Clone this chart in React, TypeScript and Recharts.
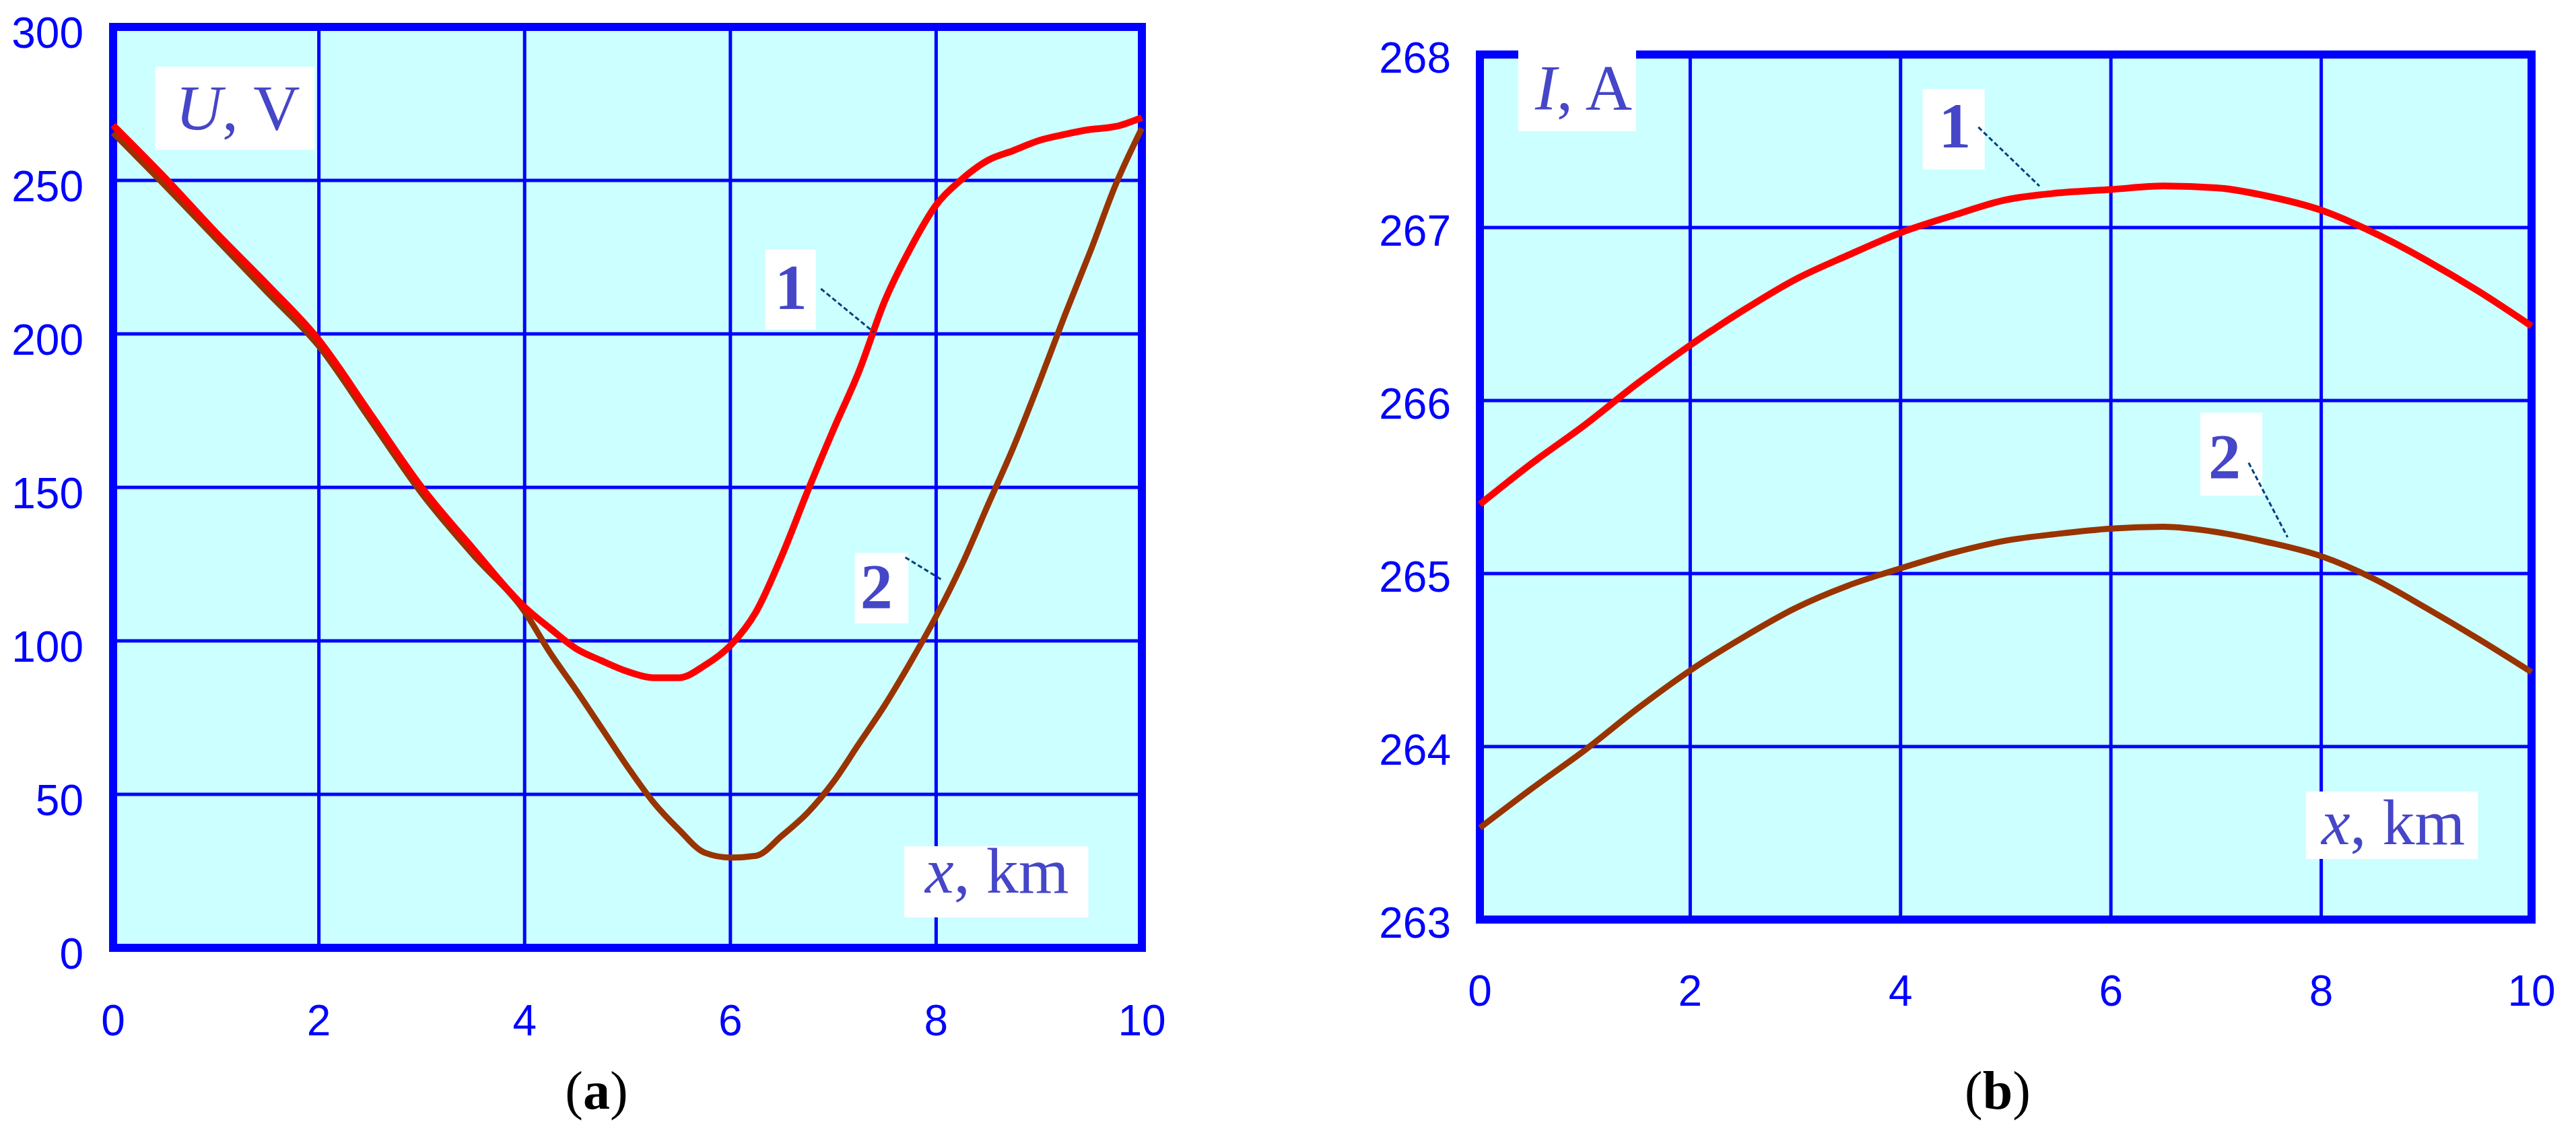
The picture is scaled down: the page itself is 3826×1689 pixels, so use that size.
import { LineChart, Line, XAxis, YAxis, CartesianGrid, ReferenceArea, ReferenceLine } from 'recharts';

// (a) voltage along the line, km -> V
const xA = [0, 0.5, 1, 1.5, 2, 2.5, 3, 3.5, 4, 4.25, 4.5, 4.75, 5, 5.25, 5.5, 5.75, 6, 6.25, 6.5, 6.75, 7, 7.25, 7.5, 7.75, 8, 8.25, 8.5, 8.75, 9, 9.25, 9.5, 9.75, 10];
const voltage1 = [268, 251, 233, 216, 198, 174, 150, 130, 111, 104, 97.5, 93.5, 90, 88, 88, 92, 98.5, 109.5, 127.7, 148.7, 168.7, 187.8, 210.7, 227.9, 242, 250.4, 256.5, 259.7, 263, 265, 266.6, 267.6, 270.5];
const voltage2 = [265.5, 248.5, 231, 213.5, 196, 172, 148, 128, 109.5, 96, 84, 71.5, 59, 47.5, 38.5, 31, 29.4, 30, 36.5, 44, 54, 66.5, 79, 93, 108, 124.8, 144, 163, 184, 206, 227, 249, 267];

// (b) current along the line, km -> A
const xB = [0, 0.5, 1, 1.5, 2, 2.5, 3, 3.5, 4, 4.5, 5, 5.5, 6, 6.5, 7, 7.5, 8, 8.5, 9, 9.5, 10];
const current1 = [265.4, 265.64, 265.86, 266.1, 266.32, 266.52, 266.7, 266.84, 266.97, 267.07, 267.16, 267.2, 267.22, 267.24, 267.23, 267.18, 267.1, 266.97, 266.81, 266.63, 266.43];
const current2 = [263.53, 263.76, 263.98, 264.22, 264.44, 264.63, 264.8, 264.93, 265.03, 265.12, 265.19, 265.23, 265.26, 265.27, 265.24, 265.18, 265.1, 264.97, 264.8, 264.62, 264.43];

const xTicks = [0, 2, 4, 6, 8, 10];
const uTicks = [0, 50, 100, 150, 200, 250, 300];
const iTicks = [263, 264, 265, 266, 267, 268];

const dataA = xA.map((x, i) => ({ x, u1: voltage1[i], u2: voltage2[i] }));
const dataB = xB.map((x, i) => ({ x, i1: current1[i], i2: current2[i] }));

const BLUE = '#0000FF';
const CYAN = '#CCFFFF';
const RED = '#FF0000';
const BROWN = '#993300';
const INK = '#4646C8';
const LEADER = '#004080';
const SERIF = '"Liberation Serif", "Times New Roman", serif';
const SANS = '"Liberation Sans", Arial, sans-serif';

type Part = { t: string; italic?: boolean; bold?: boolean };

const boxText = (parts: Part[], dx: number, dy: number, anchor: 'start' | 'middle' = 'start') =>
  (props: any) => {
    const vb = props.viewBox || { x: 0, y: 0 };
    return (
      <text x={vb.x + dx} y={vb.y + dy} textAnchor={anchor} fontFamily={SERIF} fontSize={96} fill={INK}>
        {parts.map((p, k) => (
          <tspan key={k} fontStyle={p.italic ? 'italic' : 'normal'} fontWeight={p.bold ? 'bold' : 'normal'}>{p.t}</tspan>
        ))}
      </text>
    );
  };

const yTick = (dx: number, dy: number) => (props: any) => (
  <text x={props.x - dx} y={props.y + dy} textAnchor="end" fontFamily={SANS} fontSize={64} fill={BLUE}>
    {props.payload.value}
  </text>
);

const xTick = (dy: number) => (props: any) => (
  <text x={props.x} y={props.y + dy} textAnchor="middle" fontFamily={SANS} fontSize={64} fill={BLUE}>
    {props.payload.value}
  </text>
);

function VoltageChart() {
  return (
    <LineChart width={1800} height={1689} data={dataA} margin={{ top: 40, right: 104, left: 68, bottom: 131 }}>
      <CartesianGrid fill={CYAN} fillOpacity={1} stroke={BLUE} strokeWidth={5} />
      <XAxis type="number" dataKey="x" domain={[0, 10]} ticks={xTicks} interval={0} height={150}
        axisLine={false} tickLine={false} tickSize={0} tickMargin={0} tick={xTick(130)} />
      <YAxis type="number" domain={[0, 300]} ticks={uTicks} interval={0} width={100}
        axisLine={false} tickLine={false} tickSize={0} tickMargin={0} tick={yTick(44, 31)} />
      <Line type="monotone" dataKey="u2" stroke={BROWN} strokeWidth={9} dot={false} isAnimationActive={false} />
      <Line type="monotone" dataKey="u1" stroke={RED} strokeWidth={10} dot={false} isAnimationActive={false} />
      <ReferenceArea x1={0} x2={10} y1={0} y2={300} fill="none" stroke={BLUE} strokeWidth={12} ifOverflow="visible" />
      <ReferenceLine segment={[{ x: 6.88, y: 214.7 }, { x: 7.4, y: 200.4 }]} stroke={LEADER} strokeWidth={3} strokeDasharray="7 4" ifOverflow="visible" />
      <ReferenceLine segment={[{ x: 7.7, y: 127.2 }, { x: 8.05, y: 120 }]} stroke={LEADER} strokeWidth={3} strokeDasharray="7 4" ifOverflow="visible" />
      <ReferenceArea x1={0.41} x2={1.96} y1={260} y2={287} fill="#FFFFFF" fillOpacity={1} stroke="none" ifOverflow="visible"
        label={boxText([{ t: 'U', italic: true }, { t: ', V' }], 30, 94)} />
      <ReferenceArea x1={7.69} x2={9.48} y1={9.9} y2={33.1} fill="#FFFFFF" fillOpacity={1} stroke="none" ifOverflow="visible"
        label={boxText([{ t: 'x', italic: true }, { t: ', km' }], 31, 69)} />
      <ReferenceArea x1={6.34} x2={6.83} y1={201.5} y2={227.4} fill="#FFFFFF" fillOpacity={1} stroke="none" ifOverflow="visible"
        label={boxText([{ t: '1', bold: true }], 38, 88, 'middle')} />
      <ReferenceArea x1={7.21} x2={7.73} y1={105.7} y2={128.7} fill="#FFFFFF" fillOpacity={1} stroke="none" ifOverflow="visible"
        label={boxText([{ t: '2', bold: true }], 32, 83, 'middle')} />
    </LineChart>
  );
}

function CurrentChart() {
  return (
    <LineChart width={1826} height={1689} data={dataB} margin={{ top: 81, right: 66, left: 98, bottom: 173 }}>
      <CartesianGrid fill={CYAN} fillOpacity={1} stroke={BLUE} strokeWidth={5} />
      <XAxis type="number" dataKey="x" domain={[0, 10]} ticks={xTicks} interval={0} height={150}
        axisLine={false} tickLine={false} tickSize={0} tickMargin={0} tick={xTick(128)} />
      <YAxis type="number" domain={[263, 268]} ticks={iTicks} interval={0} width={100}
        axisLine={false} tickLine={false} tickSize={0} tickMargin={0} tick={yTick(43, 27)} />
      <Line type="monotone" dataKey="i2" stroke={BROWN} strokeWidth={9} dot={false} isAnimationActive={false} />
      <Line type="monotone" dataKey="i1" stroke={RED} strokeWidth={10} dot={false} isAnimationActive={false} />
      <ReferenceArea x1={0} x2={10} y1={263} y2={268} fill="none" stroke={BLUE} strokeWidth={12} ifOverflow="visible" />
      <ReferenceLine segment={[{ x: 4.74, y: 267.58 }, { x: 5.32, y: 267.24 }]} stroke={LEADER} strokeWidth={3} strokeDasharray="7 4" ifOverflow="visible" />
      <ReferenceLine segment={[{ x: 7.31, y: 265.64 }, { x: 7.68, y: 265.21 }]} stroke={LEADER} strokeWidth={3} strokeDasharray="7 4" ifOverflow="visible" />
      <ReferenceArea x1={0.365} x2={1.485} y1={267.556} y2={268.04} fill="#FFFFFF" fillOpacity={1} stroke="none" ifOverflow="visible"
        label={boxText([{ t: 'I', italic: true }, { t: ', A' }], 25, 92)} />
      <ReferenceArea x1={7.855} x2={9.49} y1={263.35} y2={263.74} fill="#FFFFFF" fillOpacity={1} stroke="none" ifOverflow="visible"
        label={boxText([{ t: 'x', italic: true }, { t: ', km' }], 23, 78)} />
      <ReferenceArea x1={4.21} x2={4.8} y1={267.335} y2={267.8} fill="#FFFFFF" fillOpacity={1} stroke="none" ifOverflow="visible"
        label={boxText([{ t: '1', bold: true }], 48, 87, 'middle')} />
      <ReferenceArea x1={6.85} x2={7.44} y1={265.45} y2={265.93} fill="#FFFFFF" fillOpacity={1} stroke="none" ifOverflow="visible"
        label={boxText([{ t: '2', bold: true }], 36, 98, 'middle')} />
    </LineChart>
  );
}

const captionStyle = {
  position: 'absolute' as const,
  top: 1580,
  width: 200,
  textAlign: 'center' as const,
  fontFamily: SERIF,
  fontSize: 80,
  lineHeight: '80px',
  color: '#000000',
};

export default function App() {
  return (
    <div style={{ position: 'absolute', left: 0, top: 0, width: 3826, height: 1689, background: '#FFFFFF', overflow: 'hidden' }}>
      <div style={{ position: 'absolute', left: 0, top: 0 }}>
        <VoltageChart />
      </div>
      <div style={{ position: 'absolute', left: 2000, top: 0 }}>
        <CurrentChart />
      </div>
      <div style={{ ...captionStyle, left: 786 }}>(<b>a</b>)</div>
      <div style={{ ...captionStyle, left: 2867 }}>(<b>b</b>)</div>
    </div>
  );
}
